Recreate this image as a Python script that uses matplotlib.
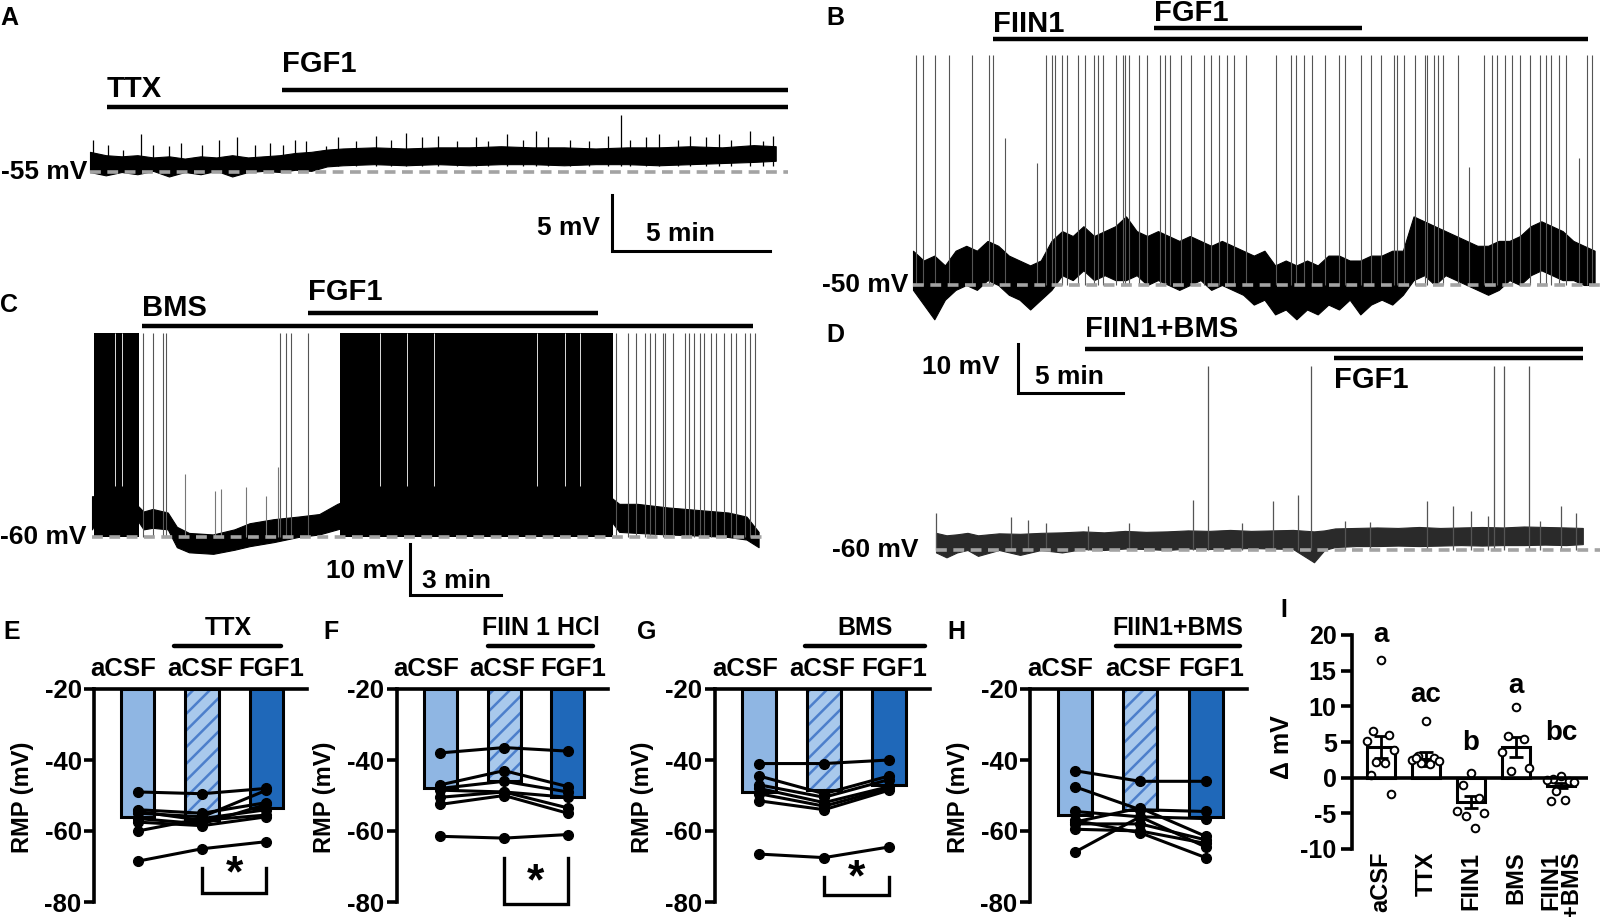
import numpy as np
import matplotlib.pyplot as plt
from matplotlib.transforms import blended_transform_factory as blend

plt.rcParams['font.family'] = ['Liberation Sans', 'DejaVu Sans']
plt.rcParams['font.weight'] = 'bold'
plt.rcParams['axes.labelweight'] = 'bold'
plt.rcParams['axes.unicode_minus'] = False
plt.rcParams['hatch.linewidth'] = 1.8

W, H = 1607, 917

# ================= data =================
# traces: time in min, voltage in mV relative to the dashed baseline

# A  (TTX, then FGF1), baseline -55 mV
A_env_t = [0, 0.5, 1, 1.5, 2, 2.5, 3, 3.5, 4, 4.5, 5, 5.5, 6, 6.5, 7, 7.5, 8, 9, 10,
           11, 12, 13, 14, 15, 16, 17, 18, 19, 20, 21, 21.7]
A_env_lo = [0.0, -0.3, 0.0, -0.2, 0.1, -0.4, 0.0, -0.2, 0.1, -0.4, 0.0, 0.1, 0.0, 0.2,
            0.1, 0.5, 0.6, 0.7, 0.6, 0.7, 0.6, 0.7, 0.7, 0.6, 0.7, 0.7, 0.6, 0.7, 0.8, 0.9, 1.0]
A_env_hi = [1.8, 1.5, 1.4, 1.5, 1.3, 1.4, 1.2, 1.4, 1.3, 1.5, 1.3, 1.4, 1.5, 1.7, 1.8,
            2.0, 2.1, 2.2, 2.1, 2.2, 2.2, 2.3, 2.2, 2.2, 2.1, 2.2, 2.2, 2.3, 2.2, 2.4, 2.3]
A_evt_t = [0.08, 0.56, 1.04, 1.6, 2.0, 2.49, 2.89, 3.53, 4.09, 4.65, 5.21, 5.69, 6.1,
           6.5, 6.82, 7.46, 7.86, 8.42, 9.06, 9.54, 10.0, 10.5, 11.0, 11.6, 12.2, 12.6,
           13.2, 13.7, 14.1, 14.5, 15.2, 15.8, 16.4, 16.8, 17.1, 17.6, 18.0, 18.6, 19.0,
           19.5, 19.9, 20.3, 20.9, 21.3, 21.6]
A_evt_h = [2.9, 2.4, 2.0, 3.4, 2.4, 2.3, 2.6, 2.4, 2.9, 3.1, 2.4, 2.6, 2.4, 2.9, 2.8,
           2.3, 3.1, 2.8, 3.2, 2.9, 3.5, 3.1, 3.2, 2.8, 3.1, 2.8, 3.4, 2.9, 3.7, 3.1,
           2.9, 2.8, 3.2, 5.1, 2.9, 3.1, 3.4, 2.9, 3.2, 3.1, 3.4, 2.9, 3.7, 2.8, 3.2]
A_drugs = [("TTX", 0.54, 22.1), ("FGF1", 6.08, 22.1)]

# B  (FIIN1, then FGF1), baseline -50 mV, envelope sampled every 0.5 min
B_env_t = np.arange(65) * 0.5
B_env_lo = [-1, -4, -7, -3, -1, 0, -1, 1, 0, -2, -3, -5, -3, -1, 2, 1, 3, 1, 2, 1,
            1, 2, 0, 1, 0, -1, 0, 1, -1, 0, -1, -2, -4, -3, -6, -5, -7, -5, -6, -4,
            -5, -3, -6, -4, -3, -4, -2, 1, 2, 0, 2, 1, 0, -1, -2, -1, 1, 0, 2, 3,
            2, 1, 1, 0, 0]
B_env_hi = [7, 5, 6, 4, 7, 8, 7, 9, 8, 6, 5, 4, 5, 9, 11, 10, 12, 10, 11, 12,
            14, 11, 10, 11, 10, 9, 10, 9, 8, 9, 8, 7, 6, 7, 4, 5, 4, 5, 4, 6,
            6, 5, 5, 6, 6, 7, 7, 14, 13, 12, 11, 10, 9, 8, 8, 9, 9, 10, 12, 13,
            12, 11, 9, 8, 7]
B_spk_t = [0.12, 0.48, 1.01, 1.69, 2.78, 3.57, 3.74, 6.23, 6.52, 6.69, 7.0, 7.25, 7.73,
           8.09, 8.5, 8.69, 8.94, 9.54, 9.85, 9.95, 10.14, 10.63, 10.99, 11.59, 11.83,
           12.08, 12.56, 13.04, 13.64, 14.0, 14.37, 14.73, 15.09, 15.65, 17.03, 17.75,
           17.99, 18.35, 18.72, 19.32, 20.0, 20.29, 21.01, 21.49, 21.98, 22.58, 22.7,
           23.06, 23.55, 24.03, 24.15, 24.44, 24.63, 24.87, 25.6, 26.81, 27.17, 27.41,
           27.77, 28.13, 28.5, 28.98, 29.46, 29.7, 29.95, 30.31, 30.67, 31.64, 31.88]
B_part_t = [4.3, 5.84, 26.08, 31.27]
B_part_h = [30, 25, 24, 26]
B_drugs = [("FIIN1", 3.75, 31.7), ("FGF1", 11.3, 21.1)]

# C  (BMS, then FGF1), baseline -60 mV
C_env_t = [0, 0.1, 0.5, 1.0, 1.5, 1.7, 2.0, 2.5, 2.8, 3.2, 4.0, 4.7, 5.2, 6.0, 6.8, 7.5,
           8.1, 8.4, 9, 10, 11, 12, 13, 14, 15, 15.5, 16, 16.5, 17.1, 17.4, 18, 19, 20,
           21, 21.6, 22]
C_env_lo = [1.5, 2.7, 3.5, 3.5, 3.3, 1.5, 1.8, 1.5, -2.0, -3.0, -3.3, -2.5, -1.8, -1.0,
            0.0, 0.5, 1.5, 2.0, 2.0, 2.2, 2.2, 2.0, 2.2, 2.0, 2.2, 2.8, 3.4, 3.6, 3.4,
            1.0, 0.8, 0.5, 0.3, 0.0, -0.5, -2.0]
C_env_hi = [8, 8, 6.5, 6.0, 6.2, 5.0, 5.5, 4.8, 2.0, 0.8, 0.5, 1.5, 2.7, 3.5, 4.0, 4.5,
            6.5, 7.2, 6.8, 6.6, 6.8, 6.5, 6.6, 6.5, 7.0, 7.8, 8.0, 8.0, 7.9, 6.5, 6.5,
            5.8, 5.3, 4.8, 4.0, 1.0]
C_bursts = [(0.05, 1.55), (8.18, 17.2)]
C_gap_t = [0.75, 1.0, 9.5, 10.4, 11.3, 14.7, 15.6, 16.1]
C_spk_t = [1.69, 2.02, 2.33, 2.44, 6.2, 6.41, 6.58, 7.13, 17.28, 17.7, 17.96, 18.25,
           18.41, 18.58, 18.83, 18.92, 19.19, 19.56, 19.69, 19.86, 20.06, 20.2, 20.43,
           20.6, 20.87, 21.08, 21.24, 21.55, 21.72, 21.89]
C_evt_t = [3.07, 4.05, 4.25, 5.09, 5.73, 6.15]
C_evt_h = [12.4, 9.0, 9.5, 9.8, 8.0, 13.7]
C_drugs = [("BMS", 1.65, 21.8), ("FGF1", 7.13, 16.7)]

# D  (FIIN1+BMS, then FGF1), baseline -60 mV
D_env_t = [0, 0.5, 1, 1.5, 2, 3, 4, 5, 6, 7, 8, 9, 10, 11, 12, 13, 14, 15, 16, 17,
           18, 18.5, 19, 20, 21, 22, 23, 24, 25, 26, 27, 28, 29, 30, 30.8]
D_env_lo = [-0.5, -1.5, -0.5, 0, -1.2, 0, -1.0, 0, -0.5, 0.2, 0, 0.3, 0.2, 0.0, 0.3,
            0.2, 0.3, 0.4, 0.3, 0.2, -2.5, 0.0, 0.6, 0.8, 0.8, 0.9, 0.8, 0.9, 1.0, 0.9,
            1.0, 1.0, 1.1, 1.0, 1.2]
D_env_hi = [3.5, 3.0, 3.2, 3.5, 3.0, 3.4, 3.3, 3.5, 3.6, 3.8, 3.6, 3.9, 3.7, 3.8, 4.0,
            3.9, 4.1, 3.9, 4.0, 4.1, 3.8, 4.0, 4.4, 4.5, 4.6, 4.5, 4.7, 4.5, 4.6, 4.7,
            4.6, 4.8, 4.7, 4.6, 4.5]
D_spk_t = [12.93, 17.87, 26.56, 27.05, 28.23]
D_evt_t = [0.0, 3.55, 4.4, 5.26, 7.22, 9.18, 12.24, 14.57, 16.03, 17.26, 19.46, 20.69,
           23.38, 24.6, 25.46, 26.3, 28.76, 29.74, 30.48]
D_evt_h = [7.5, 6.8, 6.2, 5.5, 5.0, 5.5, 10.3, 5.5, 9.9, 11.3, 6.0, 5.8, 9.9, 8.9, 8.0,
           7.0, 6.0, 9.0, 7.5]
D_drugs = [("FIIN1+BMS", 7.1, 30.8), ("FGF1", 18.95, 30.8)]

# E-H: RMP (mV); columns aCSF, drug+aCSF, drug+FGF1
rmp_cats = ["aCSF", "aCSF", "FGF1"]
E_bar = [-56, -57, -53.5]
E_cells = [[-49, -49.5, -48], [-54, -55, -52], [-54.5, -57, -55.5], [-55, -56, -48.5],
           [-56.5, -58, -52.5], [-57.5, -58.5, -56], [-60, -56.5, -54], [-68.5, -65, -63]]
F_bar = [-48, -46, -50.5]
F_cells = [[-38, -36.5, -37.5], [-47, -43, -47.5], [-48, -46, -49], [-48.5, -49, -50.5],
           [-50.5, -49, -53.5], [-52.5, -50, -55], [-61.5, -62, -61]]
G_bar = [-49, -48.5, -47]
G_cells = [[-41, -41, -40], [-44.5, -49.5, -44.5], [-47, -50.5, -45.5], [-48, -52, -47.5],
           [-49.5, -53, -48], [-51.5, -54, -48.5], [-66.5, -67.5, -64.5]]
H_bar = [-55.5, -54, -56]
H_cells = [[-43, -46, -46], [-47.5, -54, -54.5], [-54.5, -56, -56.5], [-57.5, -53.5, -61.5],
           [-58, -58, -62.5], [-59.5, -60, -63.5], [-57, -60.5, -67.5], [-66, -56, -64.5]]

# I: change in membrane potential
I_groups = ["aCSF", "TTX", "FIIN1", "BMS", "FIIN1\n+BMS"]
I_mean = [4.3, 2.6, -3.4, 4.3, -1.1]
I_sem = [1.5, 1.0, 0.9, 1.4, 0.4]
I_pts = [[16.5, 6.5, 6.0, 5.2, 3.9, 2.2, 2.0, 0.4, -2.3],
         [8.0, 3.1, 2.7, 2.5, 2.3, 2.1, 1.9, 2.8],
         [0.6, -1.0, -2.8, -4.7, -5.0, -5.4, -7.0],
         [9.9, 5.9, 5.4, 3.6, 1.3, 1.0],
         [0.3, -0.2, -0.4, -0.3, -0.6, -1.8, -3.1, -3.3]]
I_letters = ["a", "ac", "b", "a", "bc"]

LIGHT = '#8FB6E3'
HATCHBG = '#A9C9EC'
HATCH = '#4C7FCB'
DARK = '#1F68B9'
GRAY = '#a3a3a3'

fig = plt.figure(figsize=(W / 100, H / 100), dpi=100)


def px_axes(x0, y0, x1, y1):
    return fig.add_axes([x0 / W, 1 - y1 / H, (x1 - x0) / W, (y1 - y0) / H])


def ftext(x, y, s, **kw):
    kw.setdefault('fontsize', 18)
    fig.text(x / W, 1 - y / H, s, **kw)


def trace_axes(box, t0_px, px_min, base_px, px_mv):
    x0, y0, x1, y1 = box
    ax = px_axes(x0, y0, x1, y1)
    ax.set_xlim((x0 - t0_px) / px_min, (x1 - t0_px) / px_min)
    ax.set_ylim((base_px - y1) / px_mv, (base_px - y0) / px_mv)
    ax.axis('off')
    tx = lambda px: (px - t0_px) / px_min
    ty = lambda py: (base_px - py) / px_mv
    return ax, tx, ty


def trace_frame(ax, tx, ty, base_lbl, lbl_px, dash_px, drugs, bar_px, txt_px):
    ax.hlines(0, tx(dash_px[0]), tx(dash_px[1]), color=GRAY, lw=2.6,
              linestyles=(0, (3, 1.8)), zorder=5)
    ax.text(tx(lbl_px), 0, base_lbl, ha='right', va='center', fontsize=19)
    for (name, s, e), by, ty_ in zip(drugs, bar_px, txt_px):
        ax.hlines(ty(by), s, e, color='k', lw=3.2, clip_on=False)
        ax.text(s, ty(ty_), name, ha='left', va='center', fontsize=21, clip_on=False)


def scale_bar(ax, tx, ty, corner, mv, mins, mv_lbl_px, min_lbl_px):
    cx, cy = tx(corner[0]), ty(corner[1])
    ax.plot([cx, cx, cx + mins], [cy + mv, cy, cy], color='k', lw=2.2,
            solid_joinstyle='miter', clip_on=False)
    ax.text(tx(mv_lbl_px[0]), ty(mv_lbl_px[1]), f"{mv} mV", ha='right', va='center',
            fontsize=19)
    ax.text(tx(min_lbl_px[0]), ty(min_lbl_px[1]), f"{mins} min", ha='center', va='center',
            fontsize=19)


# ---------- A ----------
ax, tx, ty = trace_axes((0, 40, 800, 270), 90, 31.6, 172, 11.2)
ax.fill_between(A_env_t, A_env_lo, A_env_hi, color='k', lw=0.8)
ax.vlines(A_evt_t, 0.5, A_evt_h, color='k', lw=0.9)
trace_frame(ax, tx, ty, "-55 mV", 87, (90, 788), A_drugs, (107, 90), (89, 64))
scale_bar(ax, tx, ty, (612, 251), 5, 5, (600, 228), (680, 234))
ftext(0, 18, "A", ha='left', va='center')

# ---------- B ----------
ax, tx, ty = trace_axes((800, 40, 1607, 330), 913, 21.3, 285, 4.9)
ax.fill_between(B_env_t, B_env_lo, B_env_hi, color='k', lw=0.8)
ax.vlines(B_spk_t, 0, 47, color='#555555', lw=0.8)
ax.vlines(B_part_t, 0, B_part_h, color='#555555', lw=0.8)
trace_frame(ax, tx, ty, "-50 mV", 908, (913, 1600), B_drugs, (39, 28), (24, 13))
ftext(826, 18, "B", ha='left', va='center')

# ---------- C ----------
ax, tx, ty = trace_axes((0, 300, 800, 610), 92, 30.3, 537, 5.1)
ax.fill_between(C_env_t, C_env_lo, C_env_hi, color='k', lw=0.8)
for s, e in C_bursts:
    ax.fill_between([s, e], 0, 40, color='k', lw=0)
ax.vlines(C_gap_t, 10, 40, color='w', lw=0.6)
ax.vlines(C_spk_t, 0, 40, color='#555555', lw=0.8)
ax.vlines(C_evt_t, 0, C_evt_h, color='#777777', lw=0.8)
trace_frame(ax, tx, ty, "-60 mV", 87, (92, 765), C_drugs, (326, 313), (308, 292))
scale_bar(ax, tx, ty, (410, 595), 10, 3, (404, 571), (457, 581))
ftext(0, 305, "C", ha='left', va='center')

# ---------- D ----------
ax, tx, ty = trace_axes((800, 330, 1607, 600), 936, 21, 550, 4.9)
ax.fill_between(D_env_t, D_env_lo, D_env_hi, color='#2a2a2a', lw=0.8)
ax.vlines(D_evt_t, 0, D_evt_h, color='#555555', lw=0.9)
ax.vlines(D_spk_t, 0, 37.5, color='#555555', lw=0.9)
trace_frame(ax, tx, ty, "-60 mV", 918, (936, 1600), D_drugs, (349, 358), (329, 380))
scale_bar(ax, tx, ty, (1018, 393), 10, 5, (1000, 367), (1069, 377))
ftext(826, 335, "D", ha='left', va='center')


# ---------- E-H ----------
def rmp_panel(x0, x1, letter, lx, drug, span, bars, cells, bracket=None):
    ax = px_axes(x0, 689, x1, 902)
    w = x1 - x0
    ax.set_xlim(-0.68, 2.63)
    ax.set_ylim(-80, -20)
    pos = np.arange(3)
    hgt = np.array(bars) + 20
    ax.bar(pos[0], hgt[0], bottom=-20, width=0.52, color=LIGHT, ec='k', lw=2.2, zorder=2)
    ax.bar(pos[1], hgt[1], bottom=-20, width=0.52, color=HATCHBG, ec=HATCH, lw=0,
           hatch='//', zorder=2)
    ax.bar(pos[1], hgt[1], bottom=-20, width=0.52, fill=False, ec='k', lw=2.2, zorder=2)
    ax.bar(pos[2], hgt[2], bottom=-20, width=0.52, color=DARK, ec='k', lw=2.2, zorder=2)
    for row in cells:
        ax.plot(pos, row, '-o', color='k', lw=2.2, ms=7, zorder=4, clip_on=False)
    for s in ['right', 'bottom']:
        ax.spines[s].set_visible(False)
    for s in ['left', 'top']:
        ax.spines[s].set_linewidth(2.6)
        ax.spines[s].set_zorder(6)
    ax.set_xticks([])
    ax.set_yticks([-80, -60, -40, -20])
    ax.tick_params(axis='y', length=7, width=2.6, labelsize=18.5, pad=2)
    tr = blend(ax.transData, ax.transAxes)
    offs = [-0.22, -0.03, 0.08]
    for i, lab in enumerate(rmp_cats):
        ax.text(i + offs[i], 1 + 20 / 213, lab, transform=tr, ha='center', va='center',
                fontsize=18.5)
    ax.plot(span, [1 + 43 / 213] * 2, transform=tr, color='k', lw=3.2,
            solid_capstyle='round', clip_on=False)
    ax.text(sum(span) / 2, 1 + 61 / 213, drug, transform=tr, ha='center', va='center',
            fontsize=18)
    ax.text(-72 / w, 0.49, "RMP (mV)", transform=ax.transAxes, rotation=90,
            ha='center', va='center', fontsize=17)
    if bracket:
        top, bot, star = bracket
        ax.plot([1, 1, 2, 2], [top, bot, bot, top], color='k', lw=2.4, clip_on=False,
                solid_joinstyle='miter')
        ax.text(1.5, star, "*", ha='center', va='center', fontsize=32, clip_on=False)
    ftext(lx, 632, letter, ha='left', va='center')
    return ax


rmp_panel(94, 307, "E", 3, "TTX", (0.57, 2.23), E_bar, E_cells, (-70.5, -77.5, -72.5))
rmp_panel(397, 608, "F", 323, "FIIN 1 HCl", (0.75, 2.4), F_bar, F_cells,
          (-67.6, -80.5, -74.5))
rmp_panel(715, 930, "G", 637, "BMS", (0.71, 2.55), G_bar, G_cells, (-73.0, -78.0, -73.5))
rmp_panel(1030, 1247, "H", 947, "FIIN1+BMS", (0.63, 2.52), H_bar, H_cells)

# ---------- I ----------
ax = px_axes(1352, 635, 1588, 849)
ax.set_xlim(-0.644, 4.6)
ax.set_ylim(-10, 20)
pos = np.arange(len(I_groups))
ax.bar(pos, I_mean, width=0.62, facecolor='white', edgecolor='k', lw=2.2, zorder=2)
ax.errorbar(pos, I_mean, yerr=I_sem, fmt='none', ecolor='k', elinewidth=2, capsize=5,
            capthick=2, zorder=3)
jit = [0, -0.18, 0.18, -0.3, 0.3, -0.1, 0.1, -0.22, 0.22]
for i, vals in enumerate(I_pts):
    ax.plot(i + np.array(jit[:len(vals)]), vals, 'o', mfc='white', mec='k', mew=1.4,
            ms=5.5, zorder=4, clip_on=False)
ax.axhline(0, color='k', lw=2.6, zorder=5)
letter_y = [20, 11.6, 4.8, 12.9, 6.2]
for i, s in enumerate(I_letters):
    ax.text(i, letter_y[i], s, ha='center', va='center', fontsize=20)
for s in ['right', 'top', 'bottom']:
    ax.spines[s].set_visible(False)
ax.spines['left'].set_linewidth(2.6)
ax.set_yticks([-10, -5, 0, 5, 10, 15, 20])
ax.tick_params(axis='y', length=8, width=2.6, labelsize=18, pad=3)
ax.set_xticks(pos)
ax.set_xticklabels(I_groups, rotation=90, fontsize=17, va='top', ha='center',
                   multialignment='right', linespacing=0.9)
ax.tick_params(axis='x', length=0, pad=2)
ftext(1282, 747, "Δ mV", rotation=90, ha='center', va='center', fontsize=18)
ftext(1280, 610, "I", ha='left', va='center')

fig.savefig("out.png", dpi=100)
